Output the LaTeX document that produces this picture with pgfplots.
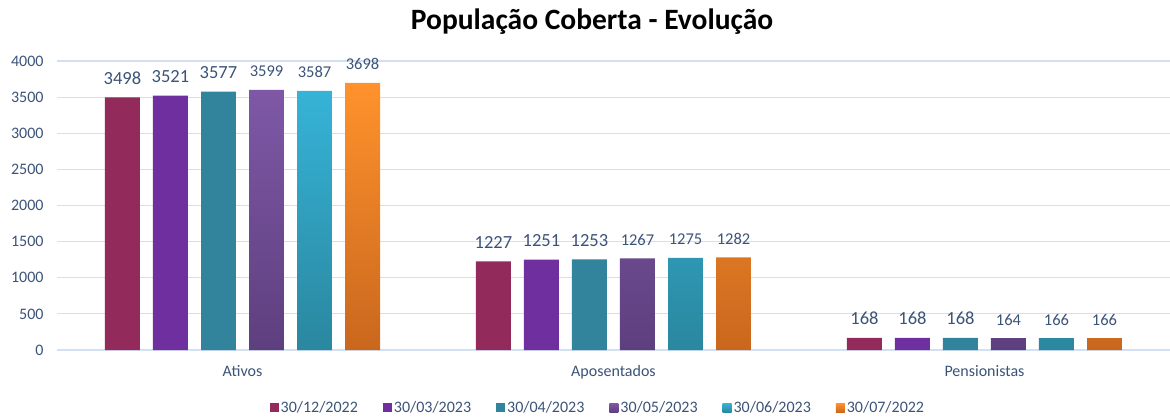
\documentclass[border=0pt]{standalone}
\usepackage{fontspec}
\setmainfont{Carlito}
\usepackage{pgfplots}
\pgfplotsset{compat=1.18}
\definecolor{txt}{HTML}{3B5378}
\definecolor{gridc}{HTML}{D3DFF2}
\definecolor{cA}{HTML}{922B5B}
\definecolor{cB}{HTML}{6F2F9F}
\definecolor{cC}{HTML}{31849B}
\definecolor{cDt}{HTML}{7E58A6}
\definecolor{cDb}{HTML}{5E3F7E}
\definecolor{cEt}{HTML}{36B3D7}
\definecolor{cEb}{HTML}{2A879F}
\definecolor{cFt}{HTML}{FF922C}
\definecolor{cFb}{HTML}{C9671E}
\begin{document}
\begin{tikzpicture}
\useasboundingbox (0,0) rectangle (1170pt,416pt);
\node[font=\fontsize{29.5}{33}\selectfont\bfseries, text=black] at (592pt,394pt) {População Coberta - Evolução};
\begin{axis}[
  at={(57pt,66pt)}, anchor=south west,
  scale only axis, width=1113pt, height=289pt,
  xmin=-0.5, xmax=2.5, ymin=0, ymax=4000,
  ytick={0,500,...,4000},
  xtick={0,1,2},
  xticklabels={Ativos,Aposentados,Pensionistas},
  axis line style={draw=none},
  major tick length=0pt,
  ymajorgrids, grid style={color=gridc, line width=1.2pt},
  scaled y ticks=false,
  /pgf/number format/assume math mode=true,
  /pgf/number format/1000 sep={},
  tick label style={font=\fontsize{16}{18}\selectfont, text=txt},
  yticklabel style={xshift=-10pt},
  xticklabel style={yshift=-12pt},
  ybar, bar width=0.0943,
  nodes near coords,
  every node near coord/.append style={anchor=base, yshift=13pt, text=txt},
  legend columns=6,
  legend style={at={(0.486,-0.2)}, anchor=center, draw=none, fill=none,
    font=\fontsize{16}{18}\selectfont, text=txt,
    /tikz/every even column/.append style={column sep=23pt}},
  legend image code/.code={\path[#1, draw=none] (0pt,-4.5pt) rectangle (9pt,4.5pt);},
  clip=false,
]
\addplot[fill=cA, draw=none, bar shift=-0.3235, every node near coord/.append style={font=\fontsize{18.5}{20}\selectfont}]
  coordinates {(0,3498) (1,1227) (2,168)};
\addplot[fill=cB, draw=none, bar shift=-0.1941, every node near coord/.append style={font=\fontsize{18.5}{20}\selectfont}]
  coordinates {(0,3521) (1,1251) (2,168)};
\addplot[fill=cC, draw=none, bar shift=-0.0647, every node near coord/.append style={font=\fontsize{18.5}{20}\selectfont}]
  coordinates {(0,3577) (1,1253) (2,168)};
\addplot[top color=cDt, bottom color=cDb, draw=none, bar shift=0.0647, every node near coord/.append style={font=\fontsize{16.5}{18}\selectfont}]
  coordinates {(0,3599) (1,1267) (2,164)};
\addplot[top color=cEt, bottom color=cEb, draw=none, bar shift=0.1941, every node near coord/.append style={font=\fontsize{16.5}{18}\selectfont}]
  coordinates {(0,3587) (1,1275) (2,166)};
\addplot[top color=cFt, bottom color=cFb, draw=none, bar shift=0.3235, every node near coord/.append style={font=\fontsize{16.5}{18}\selectfont}]
  coordinates {(0,3698) (1,1282) (2,166)};
\legend{30/12/2022,30/03/2023,30/04/2023,30/05/2023,30/06/2023,30/07/2022}
\end{axis}
\end{tikzpicture}
\end{document}
